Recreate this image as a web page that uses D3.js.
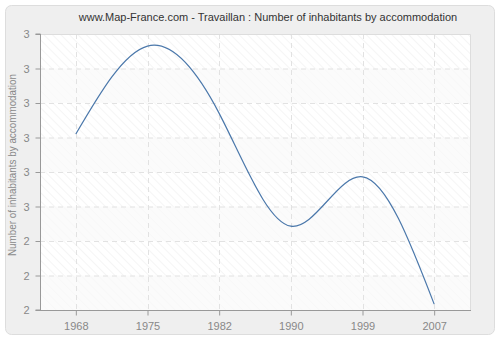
<!DOCTYPE html>
<html>
<head>
<meta charset="utf-8">
<script src="https://cdn.jsdelivr.net/npm/d3@7"></script>
<style>
  body { margin: 0; background: #fff; }
  svg text { font-family: "Liberation Sans", Arial, sans-serif; }
</style>
</head>
<body>
<div id="chart"></div>
<script>
// data
const years = ["1968", "1975", "1982", "1990", "1999", "2007"];
const values = [2.71, 2.965, 2.77, 2.443, 2.586, 2.217];
const yTicks = [2.2, 2.3, 2.4, 2.5, 2.6, 2.7, 2.8, 2.9, 3.0];

const width = 500, height = 340;
const margin = { top: 34, right: 30, bottom: 30, left: 40 };

const svg = d3.select("#chart").append("svg")
  .attr("width", width)
  .attr("height", height);

// hatch pattern for the plot background
const defs = svg.append("defs");
const pat = defs.append("pattern")
  .attr("id", "hatch")
  .attr("patternUnits", "userSpaceOnUse")
  .attr("width", 6).attr("height", 6)
  .attr("patternTransform", "rotate(-45)");
pat.append("rect").attr("width", 6).attr("height", 6).attr("fill", "#ffffff");
pat.append("line").attr("x1", 0).attr("y1", 0).attr("x2", 0).attr("y2", 6)
  .attr("stroke", "#ececec").attr("stroke-width", 1);

// outer panel
svg.append("rect")
  .attr("x", 5.5).attr("y", 5.5)
  .attr("width", 489).attr("height", 329)
  .attr("rx", 6)
  .attr("fill", "#efefef")
  .attr("stroke", "#dddddd");

const x = d3.scalePoint()
  .domain(years)
  .range([margin.left, width - margin.right])
  .padding(0.5);

const y = d3.scaleLinear()
  .domain([2.2, 3.0])
  .range([height - margin.bottom, margin.top]);

// plot area
svg.append("rect")
  .attr("x", margin.left).attr("y", margin.top)
  .attr("width", width - margin.left - margin.right)
  .attr("height", height - margin.top - margin.bottom)
  .attr("fill", "url(#hatch)");

// alternating bands
svg.append("g").selectAll("rect")
  .data(d3.pairs(yTicks).filter((d, i) => i % 2 === 0))
  .join("rect")
  .attr("x", margin.left)
  .attr("width", width - margin.left - margin.right)
  .attr("y", d => y(d[1]))
  .attr("height", d => y(d[0]) - y(d[1]))
  .attr("fill", "#fafafa")
  .attr("fill-opacity", 0.7);

// grid
svg.append("g").selectAll("line")
  .data(yTicks.slice(1, -1))
  .join("line")
  .attr("x1", margin.left).attr("x2", width - margin.right)
  .attr("y1", d => y(d) + 0.5).attr("y2", d => y(d) + 0.5)
  .attr("stroke", "#e2e2e2")
  .attr("stroke-dasharray", "5,4");

svg.append("g").selectAll("line")
  .data(years)
  .join("line")
  .attr("x1", d => Math.round(x(d)) + 0.5).attr("x2", d => Math.round(x(d)) + 0.5)
  .attr("y1", margin.top).attr("y2", height - margin.bottom)
  .attr("stroke", "#e2e2e2")
  .attr("stroke-dasharray", "5,4");

// top/right border of plot
svg.append("path")
  .attr("d", `M${margin.left},${margin.top + 0.5}H${width - margin.right + 0.5}V${height - margin.bottom}`)
  .attr("fill", "none")
  .attr("stroke", "#dddddd");

// axes
const yAxis = svg.append("g")
  .attr("transform", `translate(${margin.left + 0.5},0)`)
  .call(d3.axisLeft(y).tickValues(yTicks).tickSize(5).tickPadding(6).tickFormat(d3.format(".0f")));

const xAxis = svg.append("g")
  .attr("transform", `translate(0,${height - margin.bottom + 0.5})`)
  .call(d3.axisBottom(x).tickSize(5).tickPadding(7).tickSizeOuter(0));

[yAxis, xAxis].forEach(a => {
  a.select(".domain").attr("stroke", "#999");
  a.selectAll(".tick line").attr("stroke", "#999");
  a.selectAll(".tick text").attr("fill", "#888").attr("font-size", 11)
    .attr("font-family", "Liberation Sans, Arial, sans-serif");
});
yAxis.select(".domain").attr("d", `M-5,${margin.top}H0V${height - margin.bottom}H-5`);
xAxis.select(".domain").attr("d", `M${margin.left},0H${width - margin.right + 1}`);

// line
const line = d3.line()
  .x((d, i) => x(years[i]))
  .y(d => y(d))
  .curve(d3.curveNatural);

svg.append("path")
  .datum(values)
  .attr("d", line)
  .attr("fill", "none")
  .attr("stroke", "#4b78ab")
  .attr("stroke-width", 1.2);

// title
svg.append("text")
  .attr("x", 268).attr("y", 21)
  .attr("text-anchor", "middle")
  .attr("font-size", 11)
  .attr("fill", "#333")
  .text("www.Map-France.com - Travaillan : Number of inhabitants by accommodation");

// y label
svg.append("text")
  .attr("transform", `translate(16,165) rotate(-90)`)
  .attr("text-anchor", "middle")
  .attr("font-size", 10)
  .attr("textLength", 182)
  .attr("lengthAdjust", "spacingAndGlyphs")
  .attr("fill", "#888")
  .text("Number of inhabitants by accommodation");
</script>
</body>
</html>
